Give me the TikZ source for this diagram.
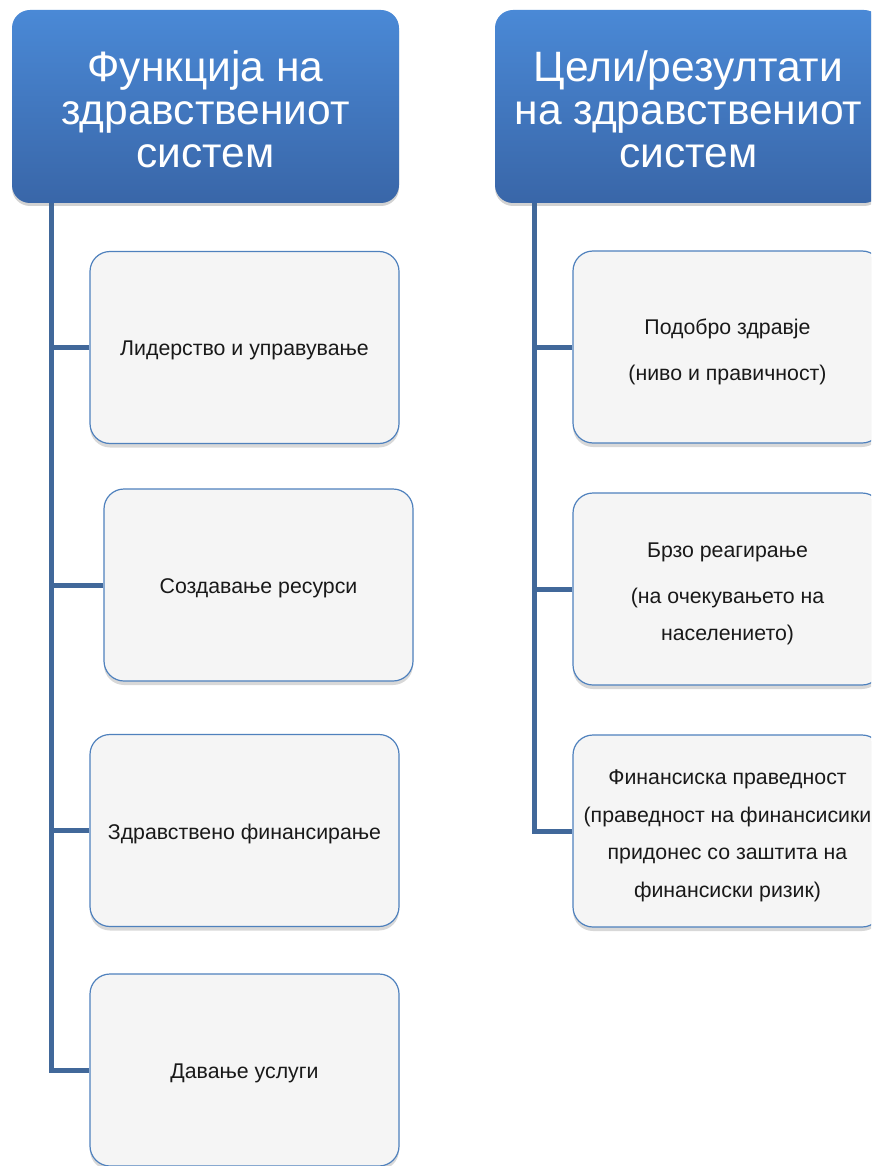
\documentclass[tikz,border=0pt]{standalone}
\usepackage{fontspec}
\setmainfont{Liberation Sans}
\usetikzlibrary{shadows}
\definecolor{hdtop}{RGB}{74,137,214}
\definecolor{hdbot}{RGB}{57,102,168}
\definecolor{boxfill}{RGB}{245,245,245}
\definecolor{boxline}{RGB}{79,129,189}
\definecolor{trunkcol}{RGB}{65,104,154}
\tikzset{
  header/.style={rounded corners=18pt, minimum width=387pt, minimum height=193pt,
    top color=hdtop, bottom color=hdbot, draw=none, inner sep=0pt,
    drop shadow={opacity=0.35, shadow xshift=0pt, shadow yshift=-3pt}},
  headtext/.style={text=white, align=center, inner sep=0pt,
    font=\fontsize{42.5}{43}\selectfont},
  itembox/.style={rounded corners=20pt, minimum width=309pt, minimum height=192pt,
    fill=boxfill, draw=boxline, line width=1.2pt, inner sep=0pt,
    drop shadow={opacity=0.3, shadow xshift=0pt, shadow yshift=-4pt}},
  itemtext/.style={align=center, text=black!90, inner sep=0pt,
    font=\fontsize{21.3}{37.5}\selectfont},
  trunk/.style={draw=trunkcol, line width=5pt},
}
\begin{document}
\begin{tikzpicture}[x=1pt,y=-1pt]
\clip (0,0) rectangle (871,1166);
\fill[white] (0,0) rectangle (871,1166);

% headers
\node[header] (hL) at (205.5,106.5) {};
\node[header] (hR) at (688.5,106.5) {};
\node[headtext] (hLt) at ([yshift=-3pt]hL.center) {Функција на\\здравствениот\\систем};
\node[headtext] (hRt) at ([yshift=-3pt]hR.center) {Цели/резултати\\на здравствениот\\систем};

% left column boxes
\node[itembox] (b1) at (244.5,347.5) {};
\node[itembox] (b2) at (258.5,585) {};
\node[itembox] (b3) at (244.5,830.5) {};
\node[itembox] (b4) at (244.5,1070) {};
\node[itemtext] (b1t) at ([yshift=-3pt]b1.center) {Лидерство и управување};
\node[itemtext] (b2t) at ([yshift=-3pt]b2.center) {Создавање ресурси};
\node[itemtext] (b3t) at ([yshift=-3pt]b3.center) {Здравствено финансирање};
\node[itemtext] (b4t) at ([yshift=-3pt]b4.center) {Давање услуги};

% right column boxes
\node[itembox] (r1) at (727.5,347) {};
\node[itembox] (r2) at (727.5,589) {};
\node[itembox] (r3) at (727.5,831) {};
\node[itemtext] (r1t) at ([yshift=-5pt]r1.center) {Подобро здравје\\[9pt](ниво и правичност)};
\node[itemtext] (r2t) at ([yshift=-5pt]r2.center) {Брзо реагирање\\[8pt](на очекувањето на\\населението)};
\node[itemtext] (r3t) at ([yshift=-5pt]r3.center) {Финансиска праведност\\(праведност на финансисики\\придонес со заштита на\\финансиски ризик)};

% trunk lines
\coordinate (tL) at ([xshift=39.5pt]hL.south west);
\coordinate (tR) at ([xshift=40pt]hR.south west);
\draw[trunk] (tL) |- (b4.west);
\draw[trunk] (b1.west) -- (b1.west -| tL);
\draw[trunk] (b2.west) -- (b2.west -| tL);
\draw[trunk] (b3.west) -- (b3.west -| tL);
\draw[trunk] (tR) |- (r3.west);
\draw[trunk] (r1.west) -- (r1.west -| tR);
\draw[trunk] (r2.west) -- (r2.west -| tR);
\end{tikzpicture}
\end{document}
